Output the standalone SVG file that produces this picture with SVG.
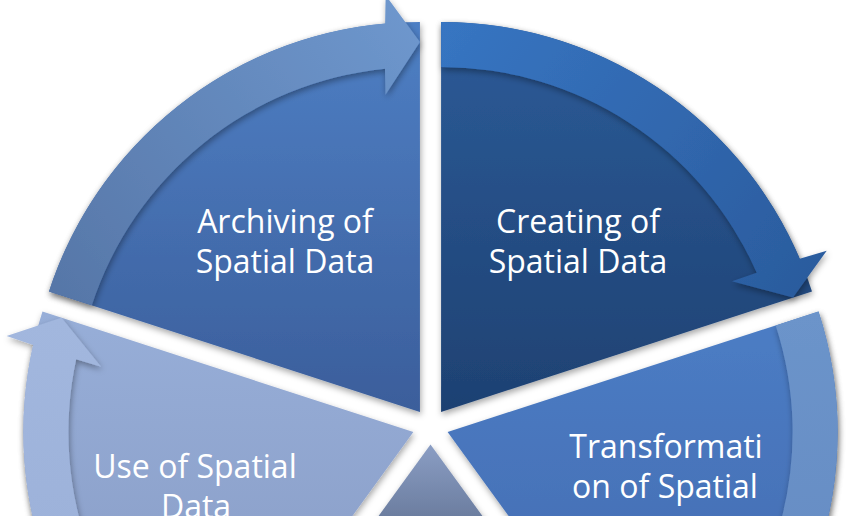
<svg xmlns="http://www.w3.org/2000/svg" width="866" height="516" viewBox="0 0 866 516">
<style>
.seg{filter:url(#sh);}
.arr{filter:url(#sh);}
.lbl{font-family:"Open Sans","Liberation Sans",sans-serif;font-size:32px;fill:#ffffff;text-anchor:middle;}
</style>
<defs>
<filter id="sh" x="-10%" y="-10%" width="120%" height="120%">
<feDropShadow dx="1" dy="3" stdDeviation="3" flood-color="#000000" flood-opacity="0.35"/>
</filter>
<linearGradient id="gArch" gradientUnits="userSpaceOnUse" x1="0" y1="22" x2="0" y2="412">
<stop offset="0" stop-color="#4e7fc4"/><stop offset="1" stop-color="#3b5e9b"/>
</linearGradient>
<linearGradient id="gCre" gradientUnits="userSpaceOnUse" x1="0" y1="22" x2="0" y2="412">
<stop offset="0" stop-color="#2c5b98"/><stop offset="1" stop-color="#1e4172"/>
</linearGradient>
<linearGradient id="gTr" gradientUnits="userSpaceOnUse" x1="0" y1="311" x2="0" y2="748">
<stop offset="0" stop-color="#4c7dc5"/><stop offset="1" stop-color="#4066aa"/>
</linearGradient>
<linearGradient id="gBot" gradientUnits="userSpaceOnUse" x1="0" y1="444" x2="0" y2="516">
<stop offset="0" stop-color="#8b9ec4"/><stop offset="1" stop-color="#6c7ea0"/>
</linearGradient>
<linearGradient id="gUse" gradientUnits="userSpaceOnUse" x1="0" y1="311" x2="0" y2="748">
<stop offset="0" stop-color="#97aed8"/><stop offset="1" stop-color="#8497c0"/>
</linearGradient>
<linearGradient id="aArch" gradientUnits="userSpaceOnUse" x1="410" y1="10" x2="50" y2="300">
<stop offset="0" stop-color="#6e97cd"/><stop offset="1" stop-color="#5676a7"/>
</linearGradient>
<linearGradient id="aCre" gradientUnits="userSpaceOnUse" x1="441" y1="22" x2="800" y2="290">
<stop offset="0" stop-color="#3775c2"/><stop offset="1" stop-color="#2b5c9e"/>
</linearGradient>
<linearGradient id="aTr" gradientUnits="userSpaceOnUse" x1="0" y1="311" x2="0" y2="748">
<stop offset="0" stop-color="#6c94ca"/><stop offset="1" stop-color="#6288c0"/>
</linearGradient>
<linearGradient id="aUse" gradientUnits="userSpaceOnUse" x1="0" y1="318" x2="0" y2="748">
<stop offset="0" stop-color="#a2b7de"/><stop offset="1" stop-color="#98add6"/>
</linearGradient>
</defs>

<g id="node-archiving">
<path class="seg" fill="url(#gArch)" d="M 419.92 411.94 L 49.01 291.42 A 390 390 0 0 1 419.92 21.94 Z"/>
<text class="lbl" x="285" y="233">Archiving of</text>
<text class="lbl" x="285" y="273">Spatial Data</text>
</g>

<g id="node-creating">
<path class="seg" fill="url(#gCre)" d="M 441.08 411.94 L 441.08 21.94 A 390 390 0 0 1 811.99 291.42 Z"/>
<text class="lbl" x="578" y="233">Creating of</text>
<text class="lbl" x="578" y="273">Spatial Data</text>
</g>

<g id="node-transformation">
<path class="seg" fill="url(#gTr)" d="M 447.62 432.06 L 818.53 311.54 A 390 390 0 0 1 676.86 747.58 Z"/>
<text class="lbl" x="666" y="458">Transformati</text>
<text class="lbl" x="665" y="498">on of Spatial</text>
</g>

<g id="node-bottom">
<path class="seg" fill="url(#gBot)" d="M 430.5 444.5 L 659.74 760.02 A 390 390 0 0 1 201.26 760.02 Z"/>
</g>

<g id="node-use">
<path class="seg" fill="url(#gUse)" d="M 413.38 432.06 L 184.14 747.58 A 390 390 0 0 1 42.47 311.54 Z"/>
<text class="lbl" x="195" y="478">Use of Spatial</text>
<text class="lbl" x="196" y="518">Data</text>
</g>

<g id="connectors">
<path class="arr" fill="url(#aArch)" d="M 49.01 291.42 A 390 390 0 0 1 385.12 23.50 L 385.67 -4.66 L 419.92 41.94 L 385.47 94.81 L 385.00 68.71 A 345 345 0 0 0 91.80 305.33 Z"/>
<path class="arr" fill="url(#aCre)" d="M 441.08 21.94 A 390 390 0 0 1 799.74 258.81 L 826.73 250.63 L 792.97 297.60 L 732.05 281.18 L 756.72 272.67 A 345 345 0 0 0 441.08 66.94 Z"/>
<path class="arr" fill="url(#aTr)" d="M 818.53 311.54 A 390 390 0 0 1 704.17 725.80 L 720.26 748.90 L 665.10 731.40 L 661.90 668.38 L 677.61 689.22 A 345 345 0 0 0 775.74 325.45 Z"/>
<path class="arr" fill="url(#aUse)" d="M 184.14 747.58 A 390 390 0 0 1 33.19 345.12 L 6.59 335.90 L 61.49 317.72 L 101.12 366.82 L 76.16 359.21 A 345 345 0 0 0 210.59 711.17 Z"/>
</g>
</svg>
